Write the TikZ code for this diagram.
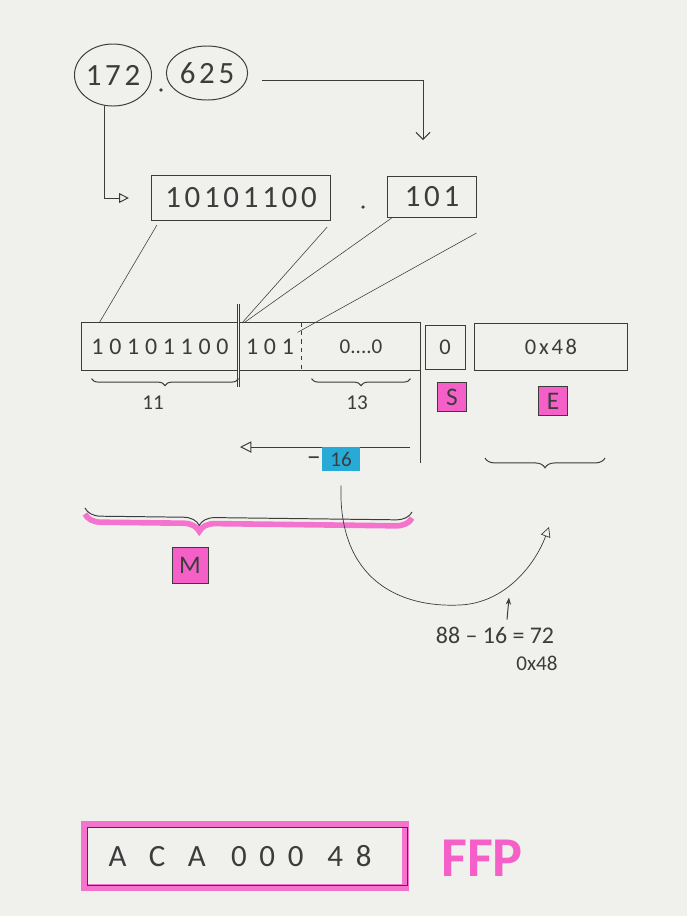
\documentclass[tikz,border=0pt]{standalone}
\usepackage{fontspec}
\setmainfont{Carlito}
\newfontfamily\handfont[LetterSpace=12]{Carlito}
\newfontfamily\widefont[LetterSpace=24]{Carlito}
\usetikzlibrary{positioning,shapes.geometric,arrows.meta,decorations.pathreplacing}
\definecolor{paper}{RGB}{240,240,237}
\definecolor{pen}{RGB}{60,60,60}
\definecolor{marker}{RGB}{245,95,200}
\definecolor{cyanmark}{RGB}{40,170,215}

\begin{document}
\begin{tikzpicture}[x=0.025cm, y=-0.025cm, color=pen, line width=0.7pt, numoval/.style={draw, ellipse, inner sep=0pt, font=\handfont\fontsize{22}{26}\selectfont}, binbox/.style={draw, inner sep=0pt, font=\handfont\fontsize{22}{26}\selectfont}, cell/.style={minimum height=1.18cm, inner sep=0pt, font=\widefont\fontsize{17}{20}\selectfont}, fieldbox/.style={cell, draw, font=\handfont\fontsize{16}{20}\selectfont}, tag/.style={draw, fill=marker, minimum size=0.72cm, inner sep=0pt, font=\fontsize{18}{20}\selectfont}, note/.style={font=\fontsize{15}{18}\selectfont}, dotmark/.style={circle, fill=pen, inner sep=0pt, minimum size=2.5pt}, guide/.style={line width=0.4pt}, brace/.style={decorate, decoration={brace, mirror, amplitude=5pt}}, openhead/.style={-{Triangle[open, length=7pt, width=7pt]}}]
\fill[paper] (0,0) rectangle (687,916);
\useasboundingbox (0,0) rectangle (687,916);
% decimal number and its binary parts
\node[numoval, minimum width=1.8cm, minimum height=1.55cm] (int) at (113,75) {172};
\node[dotmark] (radix) at (161,90) {};
\node[numoval, minimum width=2.03cm, minimum height=1.35cm] (frac) at (207,73) {625};
\node[binbox, minimum width=4.48cm, minimum height=1.13cm] (intbin) at (241,198) {10101100};
\node[dotmark] (radixbin) at (363,207) {};
\node[binbox, minimum width=2.2cm, minimum height=1.03cm] (fracbin) at (432,197) {101};
\coordinate (fracdrop) at (423,140);
\draw[openhead, shorten >=0.55cm] (int.255) |- (intbin.west);
\draw[-{Straight Barb[length=5pt, width=10pt]}] ([xshift=0.38cm]frac.-10) -| (fracdrop);
% register
\node[cell, minimum width=3.9cm] (mantint) at (160,346.5) {10101100};
\node[cell, minimum width=1.55cm, right=0pt of mantint] (mantfrac) {101};
\node[cell, minimum width=2.95cm, right=0pt of mantfrac, font=\fontsize{15}{18}\selectfont] (mantzero) {0....0};
\node[fieldbox, minimum width=1cm, minimum height=1.1cm] (sgn) at (445,347) {0};
\node[fieldbox, minimum width=3.8cm] (expo) at (551,347) {0x48};
\draw (mantint.north west) rectangle (mantzero.south east);
\draw[double=paper, double distance=1.2pt] ([yshift=0.45cm]mantint.north east) -- ([yshift=-0.42cm]mantint.south east);
\draw[dashed] (mantfrac.north east) -- (mantfrac.south east);
\draw (mantzero.south east) -- ++(0,92);
\draw[guide] ([xshift=0.15cm, yshift=-0.1cm]intbin.south west) -- ([xshift=0.45cm]mantint.north west);
\draw[guide] ([xshift=-0.1cm, yshift=-0.15cm]intbin.south east) -- ([xshift=0.1cm]mantint.north east);
\draw[guide] ([xshift=0.1cm]fracbin.south west) -- ([xshift=0.15cm]mantint.north east);
\draw[guide] ([yshift=-0.9cm]fracbin.east) -- ([xshift=-0.1cm, yshift=-0.25cm]mantfrac.north east);
% lengths and fields
\draw[brace] ([xshift=0.25cm, yshift=-0.2cm]mantint.south west) -- ([yshift=-0.2cm]mantint.south east);
\node[note] (len11) at (153,403) {11};
\draw[brace] ([xshift=0.25cm, yshift=-0.2cm]mantzero.south west) -- ([xshift=-0.25cm, yshift=-0.2cm]mantzero.south east);
\node[note] (len13) at (357,403) {13};
\node[tag] (signtag) at (452,397) {S};
\node[tag] (exptag) at (553,401) {E};
\coordinate (shiftfrom) at (410,447);
\coordinate (shiftto) at (240,447);
\draw[-{Triangle[open, length=8pt, width=8pt]}] (shiftfrom) -- (shiftto);
\node[note, font=\fontsize{20}{22}\selectfont] (minus) at (314,461) {–};
\node[note, fill=cyanmark, minimum width=0.95cm, minimum height=0.6cm, inner sep=0pt] (shiftamt) at (341,459) {16};
\draw[decorate, decoration={brace, mirror, amplitude=7pt}] (485,458) -- (605,458);
\draw[marker, line width=4pt, opacity=0.85, decorate, decoration={brace, mirror, amplitude=0.4cm, aspect=0.35}] (85,514) -- (412,518);
\draw[decorate, decoration={brace, mirror, amplitude=0.4cm, aspect=0.35}] (85,508) -- (412,512);
\node[tag, minimum size=0.9cm] (manttag) at (190,565) {M};
% exponent correction
\coordinate (expin) at (549,527);
\draw[openhead, line width=0.5pt] ([yshift=-0.35cm]shiftamt.south) .. controls (338,580) and (400,608) .. (460,605) .. controls (505,603) and (535,565) .. (expin);
\node[font=\fontsize{17}{20}\selectfont] (calc) at (495,635) {88 – 16 = 72};
\draw[-{Stealth[length=5pt]}] ([xshift=0.3cm, yshift=0.05cm]calc.north) -- ++(2,-22);
\node[note] (hex) at (537,663) {0x48};
% result
\node[minimum width=8cm, minimum height=1.55cm, font=\fontsize{22}{26}\selectfont] (ffpword) at (240,856) {A\hspace{16pt}C\hspace{16pt}A\hspace{18pt}0\hspace{9pt}0\hspace{9pt}0\hspace{17pt}4\hspace{9pt}8};
\draw[marker, line width=5pt, opacity=0.85] ([xshift=0.12cm]ffpword.north west) rectangle ([xshift=0.12cm]ffpword.south east);
\draw ([xshift=0.2cm, yshift=-0.08cm]ffpword.north west) rectangle ([xshift=0.17cm, yshift=0.05cm]ffpword.south east);
\node[text=marker, font=\bfseries\fontsize{40}{44}\selectfont] (ffplabel) at (482,858) {FFP};
\end{tikzpicture}
\end{document}
